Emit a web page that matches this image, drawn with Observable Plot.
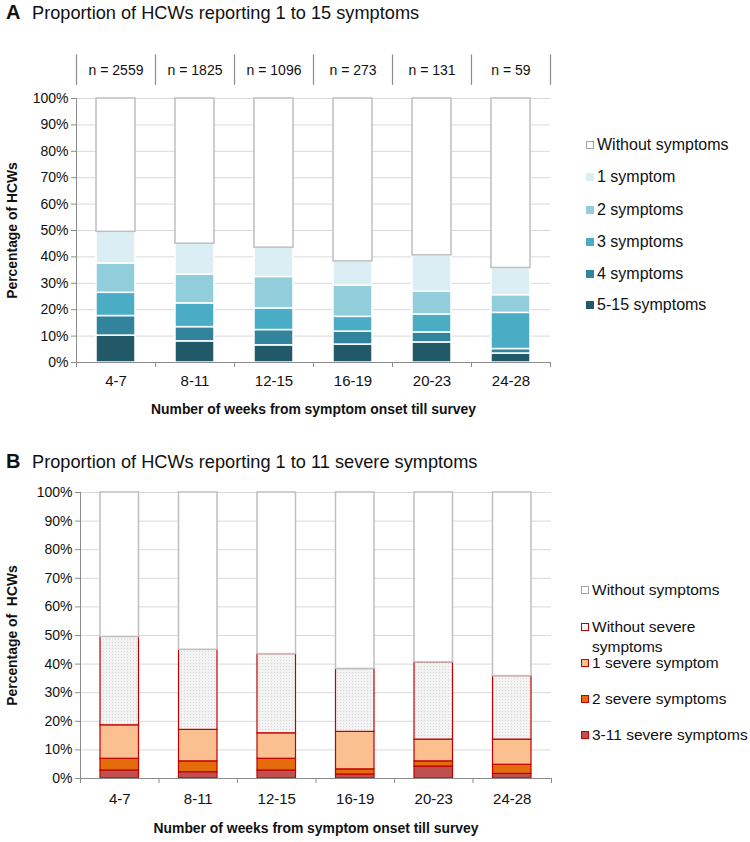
<!DOCTYPE html>
<html>
<head>
<meta charset="utf-8">
<script src="https://cdn.jsdelivr.net/npm/d3@7"></script>
<script src="https://cdn.jsdelivr.net/npm/@observablehq/plot@0.6"></script>
<style>
  body { margin: 0; background: #fff; font-family: "Liberation Sans", Arial, sans-serif; color: #111; }
  #page { position: relative; width: 750px; height: 842px; overflow: hidden; }
  .title { position: absolute; left: 6px; font-size: 18.2px; white-space: nowrap; }
  .title b { display: inline-block; width: 26px; font-size: 20px; }
  .panel { position: absolute; left: 0; }
  .legend { position: absolute; }
  .legend .item { position: absolute; left: 0; white-space: nowrap; }
  .legend .sw { position: absolute; left: 0; width: 6px; height: 6px; border: 1px solid; }
  .legend .lab { position: absolute; left: 11px; top: 0; }
</style>
</head>
<body>
<div id="page">
  <div class="title" style="top:1px"><b>A</b>Proportion of HCWs reporting 1 to 15 symptoms</div>
  <div class="panel" id="panelA" style="top:30px"></div>
  <div class="legend" id="legendA" style="left:586px; top:0px; font-size:16px"></div>
  <div class="title" style="top:450px"><b>B</b>Proportion of HCWs reporting 1 to 11 severe symptoms</div>
  <div class="panel" id="panelB" style="top:440px"></div>
  <div class="legend" id="legendB" style="left:581px; top:0px; font-size:15.5px"></div>
</div>
<script>
// ---------- data ----------
const categories = ["4-7", "8-11", "12-15", "16-19", "20-23", "24-28"];
const nValues = [2559, 1825, 1096, 273, 131, 59];
const yTicks = [0, 10, 20, 30, 40, 50, 60, 70, 80, 90, 100];

// Panel A (percent of HCWs), bottom to top
const symptoms5to15 = [10.2, 8.0, 6.5, 6.8, 7.6, 3.4];
const symptoms4     = [7.4, 5.4, 5.8, 4.9, 3.8, 1.7];
const symptoms3     = [8.8, 9.0, 8.2, 5.6, 6.8, 13.7];
const symptoms2     = [11.1, 10.9, 11.9, 11.8, 8.6, 6.7];
const symptoms1     = [12.0, 11.7, 11.1, 9.2, 13.8, 10.3];
const withoutSymptoms = [50.5, 55.0, 56.5, 61.7, 59.4, 64.2];

// Panel B (percent of HCWs), bottom to top
const severe3to11 = [2.8, 2.2, 2.8, 1.4, 4.2, 1.6];
const severe2     = [4.1, 3.8, 4.1, 1.8, 1.8, 3.2];
const severe1     = [11.7, 11.0, 8.9, 13.1, 7.6, 8.8];
const withoutSevere = [30.9, 28.0, 27.7, 22.0, 27.0, 22.2];
const withoutSymptomsB = [50.5, 55.0, 56.5, 61.7, 59.4, 64.2];

const seriesA = [
  {name: "5-15 symptoms", values: symptoms5to15},
  {name: "4 symptoms", values: symptoms4},
  {name: "3 symptoms", values: symptoms3},
  {name: "2 symptoms", values: symptoms2},
  {name: "1 symptom", values: symptoms1},
  {name: "Without symptoms", values: withoutSymptoms}
];
const seriesB = [
  {name: "3-11 severe symptoms", values: severe3to11},
  {name: "2 severe symptoms", values: severe2},
  {name: "1 severe symptom", values: severe1},
  {name: "Without severe symptoms", values: withoutSevere},
  {name: "Without symptoms", values: withoutSymptomsB}
];

// ---------- styles ----------
const fillA = {"5-15 symptoms": "#215968", "4 symptoms": "#31849b", "3 symptoms": "#4bacc6",
  "2 symptoms": "#92cddc", "1 symptom": "#daeef3", "Without symptoms": "#ffffff"};
const strokeA = {"Without symptoms": "#bfbfbf"};
const fillB = {"3-11 severe symptoms": "#c0504d", "2 severe symptoms": "#e46c0a", "1 severe symptom": "#fac090",
  "Without severe symptoms": "url(#dots)", "Without symptoms": "#ffffff"};
const strokeB = {"Without symptoms": "#bfbfbf"};

const FONT = "'Liberation Sans', Arial, sans-serif";
const axisColor = "#8c8c8c";

function rows(series) {
  const out = [];
  series.forEach(s => s.values.forEach((v, i) => out.push({i, i1: i + 1, series: s.name, value: v})));
  return out;
}

function panel({series, fills, strokes, defaultStroke, strokeWidth, height, mTop, mBottom, mLeft, mRight,
                nLabels, yTitle, yTitleDx, tickDy, titleDy, sepY}) {
  const data = rows(series);
  const idx = categories.map((c, i) => i);
  const bounds = d3.range(categories.length + 1);
  const marks = [
    Plot.gridY(yTicks, {stroke: "#d9d9d9", strokeOpacity: 1, strokeWidth: 1}),
    Plot.rectY(data, {
      x1: "i", x2: "i1", y: "value",
      fill: d => fills[d.series],
      stroke: d => strokes[d.series] || defaultStroke,
      strokeWidth: d => strokes[d.series] ? 1.5 : strokeWidth,
      insetLeft: 20, insetRight: 20
    }),
    Plot.ruleX([0], {stroke: axisColor}),
    Plot.ruleY([0], {stroke: axisColor}),
    Plot.axisY(yTicks, {tickFormat: d => d + "%", tickSize: 5, tickPadding: 3, stroke: axisColor, fontSize: 14, fill: "#111", label: null}),
    Plot.axisX(bounds, {tickFormat: () => "", tickSize: 5, stroke: axisColor, label: null}),
    Plot.axisX(idx.map(i => i + 0.5), {tickFormat: d => categories[Math.floor(d)], tickSize: 0, tickPadding: tickDy, fontSize: 15, fill: "#111", label: null}),
    Plot.text([yTitle], {frameAnchor: "left", textAnchor: "middle", rotate: -90, dx: yTitleDx, fontWeight: "bold", fontSize: 13.9, fill: "#111"}),
    Plot.text(["Number of weeks from symptom onset till survey"], {frameAnchor: "bottom", dy: titleDy, fontWeight: "bold", fontSize: 13.9, fill: "#111"})
  ];
  if (nLabels) {
    marks.push(Plot.ruleX(bounds, {y1: sepY[0], y2: sepY[1], stroke: "#8c8c8c", strokeWidth: 1.2}));
    marks.push(Plot.text(idx, {x: i => i + 0.5, y: (sepY[0] + sepY[1]) / 2, text: i => "n = " + nValues[i], fontSize: 14, fill: "#111"}));
  }
  const svg = Plot.plot({
    width: 750, height,
    marginTop: mTop, marginBottom: mBottom, marginLeft: mLeft, marginRight: mRight,
    style: {fontFamily: FONT, fontSize: "14px", background: "transparent", overflow: "visible"},
    x: {type: "linear", domain: [0, categories.length], axis: null},
    y: {domain: [0, 100], axis: null},
    color: {type: "identity"},
    marks
  });
  d3.select(svg).insert("defs", ":first-child").html(
    '<pattern id="dots" width="3" height="3" patternUnits="userSpaceOnUse">' +
    '<rect width="3" height="3" fill="#f3f3f3"></rect><rect x="1" y="1" width="1" height="1" fill="#d6d6d6"></rect></pattern>');
  return svg;
}

document.getElementById("panelA").appendChild(panel({
  series: seriesA, fills: fillA, strokes: strokeA, defaultStroke: "#ffffff", strokeWidth: 1.5,
  height: 395, mTop: 68, mBottom: 63, mLeft: 76, mRight: 200,
  nLabels: true, yTitle: "Percentage of HCWs", yTitleDx: -64, tickDy: 13, titleDy: 51, sepY: [105, 116.5]
}));
document.getElementById("panelB").appendChild(panel({
  series: seriesB, fills: fillB, strokes: strokeB, defaultStroke: "#c00000", strokeWidth: 1.2,
  height: 402, mTop: 52, mBottom: 64, mLeft: 80, mRight: 199,
  nLabels: false, yTitle: "Percentage of  HCWs", yTitleDx: -68, tickDy: 15, titleDy: 54
}));

// ---------- legends ----------
const legendAItems = [
  {name: "Without symptoms", y: 135, fill: "#ffffff", stroke: "#a6a6a6"},
  {name: "1 symptom", y: 167, fill: "#daeef3", stroke: "#daeef3"},
  {name: "2 symptoms", y: 200, fill: "#92cddc", stroke: "#92cddc"},
  {name: "3 symptoms", y: 232, fill: "#4bacc6", stroke: "#4bacc6"},
  {name: "4 symptoms", y: 264, fill: "#31849b", stroke: "#31849b"},
  {name: "5-15 symptoms", y: 295, fill: "#215968", stroke: "#215968"}
];
const legendBItems = [
  {name: "Without symptoms", y: 580, fill: "#ffffff", stroke: "#a6a6a6"},
  {name: "Without severe<br>symptoms", y: 617, fill: "#f7f7f7", stroke: "#c00000"},
  {name: "1 severe symptom", y: 653, fill: "#fac090", stroke: "#c00000"},
  {name: "2 severe symptoms", y: 689, fill: "#e46c0a", stroke: "#c00000"},
  {name: "3-11 severe symptoms", y: 725, fill: "#c0504d", stroke: "#c00000"}
];
function legend(el, items, lh) {
  items.forEach(it => {
    const d = document.createElement("div");
    d.className = "item";
    d.style.top = it.y + "px";
    d.innerHTML = `<span class="sw" style="top:${lh / 2 - 4}px;background:${it.fill};border-color:${it.stroke}"></span><span class="lab" style="line-height:${lh}px">${it.name}</span>`;
    el.appendChild(d);
  });
}
legend(document.getElementById("legendA"), legendAItems, 20);
legend(document.getElementById("legendB"), legendBItems, 20);
</script>
</body>
</html>
